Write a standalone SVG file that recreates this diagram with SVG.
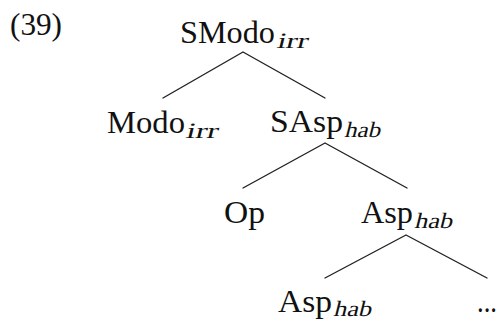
<svg xmlns="http://www.w3.org/2000/svg" width="499" height="320" viewBox="0 0 499 320">
<style>
text{font-family:"Liberation Serif","Times New Roman",serif;fill:#111}
.m{font-size:31px}
.s{font-size:22px}
.e{stroke:#222;stroke-width:1.4;fill:none;stroke-linecap:round}
</style>
<rect width="499" height="320" fill="#fff"/>
<text class="m" x="10" y="35" textLength="52" lengthAdjust="spacingAndGlyphs">(39)</text>
<g id="connectors">
<path class="e" d="M243 52 L163 98 M243 52 L325 98"/>
<path class="e" d="M325 143 L243 188 M325 143 L407 188"/>
<path class="e" d="M406 235 L325 278 M406 235 L487 278"/>
</g>
<g id="n-smodo">
<text class="m" x="180" y="43" textLength="95" lengthAdjust="spacingAndGlyphs">SModo</text>
<text class="s" transform="translate(276 48) skewX(-14)" textLength="31" lengthAdjust="spacingAndGlyphs">irr</text>
</g>
<g id="n-modo">
<text class="m" x="107" y="133" textLength="78" lengthAdjust="spacingAndGlyphs">Modo</text>
<text class="s" transform="translate(185 138) skewX(-14)" textLength="32" lengthAdjust="spacingAndGlyphs">irr</text>
</g>
<g id="n-sasp">
<text class="m" x="270" y="132" textLength="73" lengthAdjust="spacingAndGlyphs">SAsp</text>
<text class="s" transform="translate(344 137) skewX(-14)" textLength="36" lengthAdjust="spacingAndGlyphs">hab</text>
</g>
<g id="n-op">
<text class="m" x="224" y="223" textLength="41" lengthAdjust="spacingAndGlyphs">Op</text>
</g>
<g id="n-asp1">
<text class="m" x="361" y="223" textLength="52" lengthAdjust="spacingAndGlyphs">Asp</text>
<text class="s" transform="translate(414 228) skewX(-14)" textLength="38" lengthAdjust="spacingAndGlyphs">hab</text>
</g>
<g id="n-asp2">
<text class="m" x="278" y="312" textLength="54" lengthAdjust="spacingAndGlyphs">Asp</text>
<text class="s" transform="translate(333 316) skewX(-14)" textLength="38" lengthAdjust="spacingAndGlyphs">hab</text>
</g>
<g id="n-dots">
<text class="m" x="477" y="312" textLength="20" lengthAdjust="spacingAndGlyphs">...</text>
</g>
</svg>
